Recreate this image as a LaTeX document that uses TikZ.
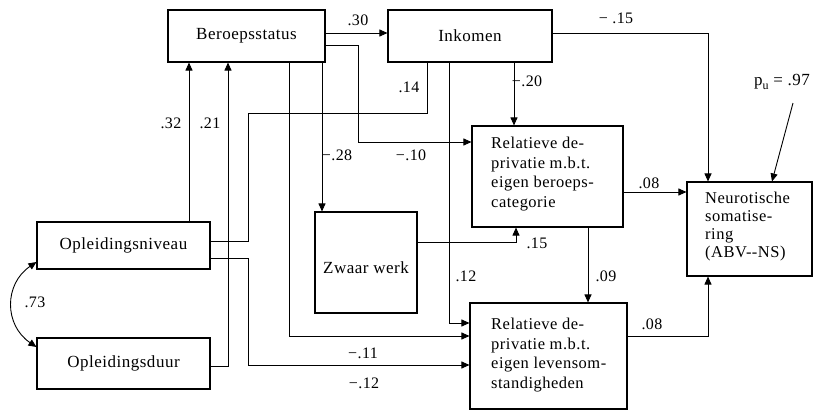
\documentclass[tikz,border=0pt]{standalone}
\usepackage{fontspec}
\setmainfont[LetterSpace=3]{Liberation Serif}
\usetikzlibrary{arrows.meta}
\begin{document}
\begin{tikzpicture}[x=1pt,y=-1pt,
  every node/.style={font=\fontsize{17}{19}\selectfont},
  box/.style={draw,line width=1.1pt,rectangle,inner sep=0pt},
  lbl/.style={inner sep=0pt,font=\fontsize{16}{19}\selectfont},
  conn/.style={line width=0.9pt},
  arr/.style={conn,-{Triangle[length=8pt,width=7pt]}},
  darr/.style={conn,{Triangle[length=8pt,width=7pt]}-{Triangle[length=8pt,width=7pt]}}]
\useasboundingbox (0,0) rectangle (826,410);
% boxes
\node[box,minimum width=157pt,minimum height=52pt] (ber) at (246.5,36) {Beroepsstatus};
\node[box,minimum width=164pt,minimum height=52pt] (ink) at (470,36) {Inkomen};
\node[box,minimum width=151pt,minimum height=101pt] (rel1) at (547.5,176.5) {};
\node[inner sep=0pt,align=left,anchor=west,font=\fontsize{16.5}{19.5}\selectfont] (rel1t) at (491,174) {Relatieve de-\\privatie m.b.t.\\eigen beroeps-\\categorie};
\node[box,minimum width=125pt,minimum height=94pt] (neu) at (749.5,229) {};
\node[inner sep=0pt,align=left,anchor=west,font=\fontsize{16.5}{18}\selectfont] (neut) at (705,227) {Neurotische\\somatise-\\ring\\(ABV-{}-NS)};
\node[box,minimum width=102pt,minimum height=101pt] (zw) at (366,262.5) {};
\node[inner sep=0pt] (zwt) at (366,268) {Zwaar werk};
\node[box,minimum width=173pt,minimum height=47pt] (opn) at (123.5,245.5) {Opleidingsniveau};
\node[box,minimum width=173pt,minimum height=51pt] (opd) at (123.5,363.5) {Opleidingsduur};
\node[box,minimum width=157pt,minimum height=106pt] (rel2) at (548.5,356) {};
\node[inner sep=0pt,align=left,anchor=west,font=\fontsize{16.5}{19.5}\selectfont] (rel2t) at (491,355) {Relatieve de-\\privatie m.b.t.\\eigen levensom-\\standigheden};
\node[inner sep=0pt] (pu) at (782,82) {p\raisebox{-4pt}{\fontsize{12}{12}\selectfont u} = .97};
\coordinate (pstart) at (793,103);
% connectors
\draw[arr] (ber.east |- 0,33) -- (ink.west |- 0,33);
\draw[arr] (ber.east |- 0,45) -| (358,142) -- (rel1.west |- 0,142);
\draw[arr] (ink.south -| 449,0) |- (rel2.west |- 0,323);
\draw[arr] (ink.south -| 514,0) -- (rel1.north -| 514,0);
\draw[arr] (ink.east |- 0,33) -| (neu.north -| 708,0);
\draw[conn] (opn.east |- 0,241) -| (248,113) -| (ink.south -| 427,0);
\draw[arr] (ber.south -| 289,0) |- (rel2.west |- 0,336);
\draw[arr] (opn.east |- 0,258) -| (248,365) -- (rel2.west |- 0,365);
\draw[arr] (ber.south -| 322,0) -- (zw.north -| 322,0);
\draw[arr] (opn.north -| 189,0) -- (ber.south -| 189,0);
\draw[arr] (opd.east |- 0,366) -| (ber.south -| 228,0);
\draw[arr] (zw.east |- 0,242) -| (rel1.south -| 516,0);
\draw[arr] (rel1.east |- 0,192) -- (neu.west |- 0,192);
\draw[arr] (rel1.south -| 588,0) -- (rel2.north -| 588,0);
\draw[arr] (rel2.east |- 0,336) -| (neu.south -| 708,0);
\draw[darr] (opn.west |- 0,262) .. controls (4,284) and (4,325) .. (opd.west |- 0,347);
\draw[arr] (pstart) -- (neu.north -| 772,0);
% labels
\node[lbl] (l30) at (358,20) {.30};
\node[lbl] (l15a) at (616,18) {− .15};
\node[lbl] (l14) at (409,87) {.14};
\node[lbl] (l20) at (527,81) {−.20};
\node[lbl] (l28) at (337,155) {−.28};
\node[lbl] (l10) at (411,155) {−.10};
\node[lbl] (l32) at (171,123) {.32};
\node[lbl] (l21) at (210,123) {.21};
\node[lbl] (l15b) at (537,243) {.15};
\node[lbl] (l08a) at (649,183) {.08};
\node[lbl] (l09) at (606,276) {.09};
\node[lbl] (l12a) at (466,276) {.12};
\node[lbl] (l08b) at (652,324) {.08};
\node[lbl] (l11) at (363,353) {−.11};
\node[lbl] (l12b) at (364,383) {−.12};
\node[lbl] (l73) at (35,302) {.73};
\end{tikzpicture}
\end{document}
